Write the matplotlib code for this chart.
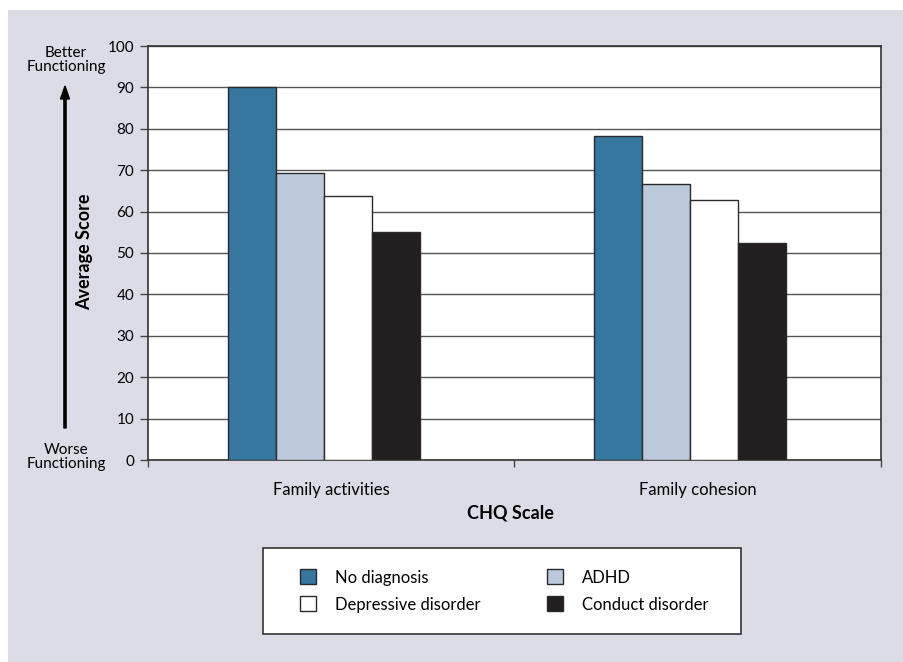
import matplotlib.pyplot as plt
import matplotlib.patches as mpatches
import numpy as np

plt.rcParams['font.family'] = ['Lato', 'DejaVu Sans']

categories = ['Family activities', 'Family cohesion']
series = ['No diagnosis', 'ADHD', 'Depressive disorder', 'Conduct disorder']
no_diag = [90.2, 78.3]
adhd = [69.3, 66.7]
depressive = [63.8, 62.8]
conduct = [55.1, 52.4]
colors = ['#35779f', '#bcc9db', '#ffffff', '#231f20']

fig = plt.figure(figsize=(9.04, 6.62), dpi=100)
fig.patch.set_facecolor('white')
fig.patches.append(mpatches.Rectangle((8 / 904, 0), 1, 1 - 10 / 662, transform=fig.transFigure,
                                      facecolor='#dcdce6', edgecolor='none', zorder=-10))

ax = fig.add_axes([148 / 904, 1 - 460 / 662, 733 / 904, 414 / 662])
ax.set_facecolor('white')

x = np.arange(len(categories))
w = 0.131
shift = -0.02
vals = [no_diag, adhd, depressive, conduct]
for i, (v, c, lab) in enumerate(zip(vals, colors, series)):
    ax.bar(x + shift + (i - 1.5) * w, v, w, color=c, edgecolor='#2a2a2a', linewidth=1,
           label=lab, zorder=3)

ax.set_xlim(-0.5, 1.5)
ax.set_ylim(0, 100)
ax.set_yticks(range(0, 101, 10))
ax.yaxis.grid(True, color='#555555', linewidth=1)
ax.set_axisbelow(True)
ax.tick_params(axis='y', length=6, width=1, color='#444444', labelsize=11, pad=4)
ax.set_xticks(x)
ax.set_xticklabels(categories, fontsize=12)
ax.tick_params(axis='x', length=0, pad=16)
ax.set_xticks([-0.5, 0.5, 1.5], minor=True)
ax.tick_params(axis='x', which='minor', length=5, width=1, color='#444444')
for s in ax.spines.values():
    s.set_color('#333333')
    s.set_linewidth(1.2)

fig.text(510 / 904, 1 - 513 / 662, 'CHQ Scale', fontsize=13, fontweight='bold',
         ha='center', va='center')
fig.text(85 / 904, 1 - 252 / 662, 'Average Score', fontsize=13, fontweight='bold',
         rotation=90, ha='center', va='center')
fig.text(66 / 904, 1 - 60 / 662, 'Better\nFunctioning', fontsize=11, ha='center',
         va='center', linespacing=1.0)
fig.text(66 / 904, 1 - 457 / 662, 'Worse\nFunctioning', fontsize=11, ha='center',
         va='center', linespacing=1.0)
fig.patches.append(mpatches.FancyArrow(65 / 904, 1 - 428 / 662, 0, (428 - 86) / 662,
                                       width=1.6 / 662, head_width=9 / 904, head_length=13 / 662,
                                       length_includes_head=True, transform=fig.transFigure,
                                       color='black'))

fig.patches.append(mpatches.Rectangle((263 / 904, 1 - 634 / 662), 478 / 904, 86 / 662,
                                      transform=fig.transFigure, facecolor='white',
                                      edgecolor='#333333', linewidth=1.2, zorder=1))
handles, labels = ax.get_legend_handles_labels()
order = [0, 2, 1, 3]
fig.legend([handles[i] for i in order], [labels[i] for i in order], ncol=2, frameon=False,
           loc='center', bbox_to_anchor=(504 / 904, 1 - 591 / 662), fontsize=12,
           handlelength=1.0, handleheight=1.0, handletextpad=1.1, columnspacing=4.0,
           labelspacing=0.65)

fig.savefig('out.png', dpi=100)
